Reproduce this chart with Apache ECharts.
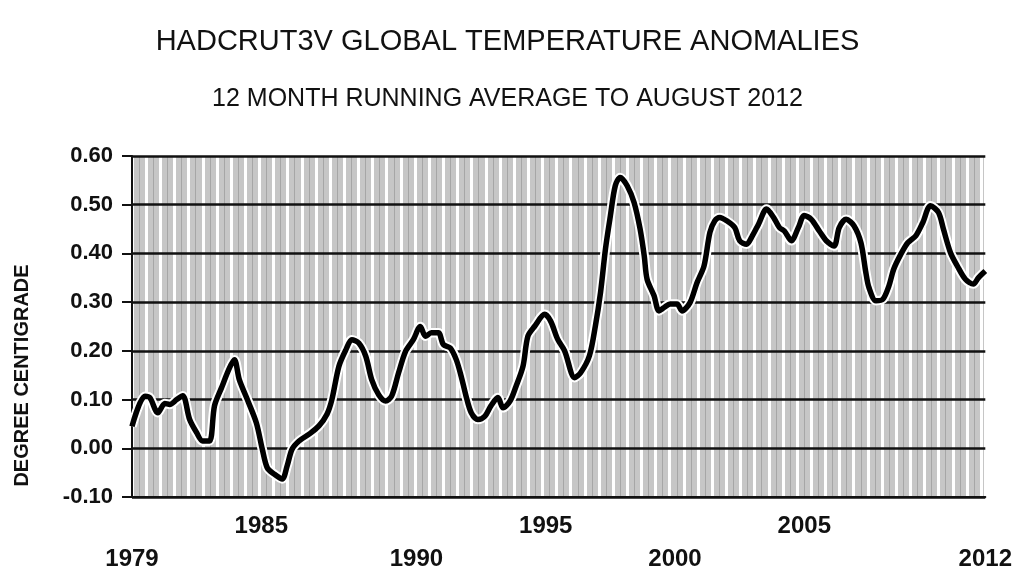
<!DOCTYPE html>
<html>
<head>
<meta charset="utf-8">
<script src="https://cdn.jsdelivr.net/npm/echarts@6/dist/echarts.min.js"></script>
<style>
  html, body { margin: 0; padding: 0; background: #fff; }
  #chart { width: 1015px; height: 575px; }
</style>
</head>
<body>
<div id="chart"></div>
<script>
// 12-month running average (decimal year, deg C)
const years = [
  1979.00, 1979.50, 1979.69, 1980.00, 1980.27, 1980.46, 1980.73, 1980.96, 1981.23, 1981.50,
  1981.73, 1982.00, 1982.19, 1982.46, 1982.77, 1982.96, 1983.15, 1983.46, 1983.81, 1984.04,
  1984.23, 1984.50, 1984.81, 1985.00, 1985.19, 1985.46, 1985.85, 1986.23, 1986.54, 1986.73,
  1987.00, 1987.27, 1987.50, 1987.77, 1988.04, 1988.27, 1988.54, 1988.81, 1989.04, 1989.31,
  1989.58, 1989.88, 1990.15, 1990.35, 1990.58, 1990.85, 1991.04, 1991.31, 1991.54, 1991.73,
  1991.92, 1992.12, 1992.38, 1992.65, 1992.88, 1993.15, 1993.35, 1993.62, 1993.85, 1994.12,
  1994.31, 1994.58, 1994.96, 1995.19, 1995.46, 1995.73, 1996.12, 1996.35, 1996.69, 1996.92,
  1997.12, 1997.31, 1997.50, 1997.69, 1997.88, 1998.15, 1998.42, 1998.65, 1998.81, 1998.92,
  1999.19, 1999.38, 1999.58, 1999.81, 2000.08, 2000.27, 2000.58, 2000.85, 2001.12, 2001.35,
  2001.54, 2001.73, 2002.00, 2002.31, 2002.50, 2002.77, 2002.96, 2003.23, 2003.54, 2003.81,
  2004.04, 2004.23, 2004.50, 2004.77, 2005.00, 2005.27, 2005.58, 2005.85, 2006.15, 2006.35,
  2006.62, 2006.92, 2007.19, 2007.38, 2007.50, 2007.77, 2008.04, 2008.27, 2008.46, 2008.73,
  2009.00, 2009.31, 2009.58, 2009.88, 2010.19, 2010.38, 2010.65, 2010.92, 2011.23, 2011.54,
  2011.73, 2012.00
];
const anomaly = [
  0.045, 0.107, 0.104, 0.073, 0.092, 0.090, 0.100, 0.108, 0.059, 0.032,
  0.015, 0.015, 0.087, 0.124, 0.165, 0.182, 0.141, 0.100, 0.052, -0.002,
  -0.040, -0.053, -0.063, -0.036, -0.002, 0.015, 0.029, 0.046, 0.070, 0.100,
  0.168, 0.202, 0.223, 0.216, 0.189, 0.141, 0.110, 0.097, 0.107, 0.155,
  0.199, 0.223, 0.250, 0.230, 0.237, 0.237, 0.213, 0.206, 0.182, 0.148,
  0.107, 0.073, 0.059, 0.066, 0.087, 0.104, 0.083, 0.097, 0.127, 0.168,
  0.230, 0.251, 0.275, 0.261, 0.224, 0.200, 0.145, 0.155, 0.190, 0.251,
  0.320, 0.409, 0.477, 0.539, 0.556, 0.539, 0.504, 0.450, 0.395, 0.347,
  0.313, 0.282, 0.289, 0.296, 0.296, 0.282, 0.299, 0.340, 0.374, 0.443,
  0.467, 0.474, 0.467, 0.453, 0.426, 0.419, 0.433, 0.460, 0.491, 0.474,
  0.453, 0.446, 0.426, 0.453, 0.478, 0.470, 0.446, 0.426, 0.415, 0.453,
  0.470, 0.457, 0.422, 0.361, 0.330, 0.303, 0.306, 0.333, 0.368, 0.398,
  0.422, 0.436, 0.463, 0.498, 0.484, 0.450, 0.402, 0.374, 0.347, 0.337,
  0.350, 0.364
];

// staggered year labels: [tick, text]
const upperYearLabels = [[1984, '1985'], [1995, '1995'], [2005, '2005']];
const lowerYearLabels = [[1979, '1979'], [1990, '1990'], [2000, '2000'], [2012, '2012']];

const chart = echarts.init(document.getElementById('chart'));
const points = years.map((y, i) => [y, anomaly[i]]);
const labelFor = list => v => {
  const hit = list.find(l => l[0] === Math.round(v));
  return hit ? hit[1] : '';
};
const yearLabel = {
  fontFamily: 'Liberation Sans',
  fontSize: 24,
  fontWeight: 'bold',
  color: '#111'
};

const option = {
  animation: false,
  backgroundColor: '#fff',
  title: [
    {
      text: 'HADCRUT3V GLOBAL TEMPERATURE ANOMALIES',
      left: 'center',
      top: 22,
      textStyle: { fontFamily: 'Liberation Sans', fontSize: 29, fontWeight: 'normal', color: '#111' }
    },
    {
      text: '12 MONTH RUNNING AVERAGE TO AUGUST 2012',
      left: 'center',
      top: 82,
      textStyle: { fontFamily: 'Liberation Sans', fontSize: 25, fontWeight: 'normal', color: '#111' }
    }
  ],
  grid: {
    left: 132,
    right: 25,
    top: 156,
    bottom: 78,
    show: true,
    backgroundColor: '#c6c6c6',
    borderWidth: 0
  },
  xAxis: [
    {
      type: 'value',
      min: 1979,
      max: 2012,
      interval: 1,
      position: 'bottom',
      z: 3,
      axisLine: { onZero: false, lineStyle: { color: '#111', width: 2 } },
      axisTick: { show: false },
      splitLine: { show: false },
      axisLabel: { ...yearLabel, margin: 17, showMinLabel: true, showMaxLabel: true, formatter: labelFor(upperYearLabels) }
    },
    {
      type: 'value',
      min: 1979,
      max: 2012,
      interval: 1,
      position: 'bottom',
      axisLine: { show: false, onZero: false },
      axisTick: { show: false },
      splitLine: { show: false },
      axisLabel: { ...yearLabel, margin: 50, showMinLabel: true, showMaxLabel: true, formatter: labelFor(lowerYearLabels) }
    },
    {
      // background stripes
      type: 'value',
      min: 0,
      max: 60.3,
      interval: 1,
      position: 'top',
      z: 0,
      axisLine: { show: false, onZero: false },
      axisTick: { show: false },
      axisLabel: { show: false },
      splitLine: { show: true, lineStyle: { color: '#ffffff', width: 3 } },
      minorTick: { show: true, splitNumber: 2, length: 0 },
      minorSplitLine: { show: true, lineStyle: { color: '#a6a6a6', width: 1 } }
    }
  ],
  yAxis: {
    type: 'value',
    min: -0.1,
    max: 0.6,
    interval: 0.1,
    z: 2,
    name: 'DEGREE CENTIGRADE',
    nameLocation: 'middle',
    nameGap: 100,
    nameTextStyle: {
      fontFamily: 'Liberation Sans',
      fontSize: 20,
      fontWeight: 'bold',
      color: '#111',
      padding: [0, 98, 0, 0]
    },
    axisLine: { show: true, onZero: false, lineStyle: { color: '#111', width: 2 } },
    axisTick: { show: true, length: 10, lineStyle: { color: '#111', width: 2 } },
    axisLabel: {
      margin: 19,
      fontFamily: 'Liberation Sans',
      fontSize: 22,
      fontWeight: 'bold',
      color: '#111',
      formatter: v => v.toFixed(2)
    },
    splitLine: { show: true, lineStyle: { color: '#111', width: 2.5 } }
  },
  series: [
    {
      // white halo under the line
      type: 'line',
      xAxisIndex: 0,
      data: points,
      showSymbol: false,
      smooth: 0.3,
      lineStyle: { color: '#ffffff', width: 9.5 },
      z: 4
    },
    {
      type: 'line',
      xAxisIndex: 0,
      data: points,
      showSymbol: false,
      smooth: 0.3,
      lineStyle: { color: '#000', width: 5.5 },
      z: 5
    }
  ]
};

chart.setOption(option);
</script>
</body>
</html>
